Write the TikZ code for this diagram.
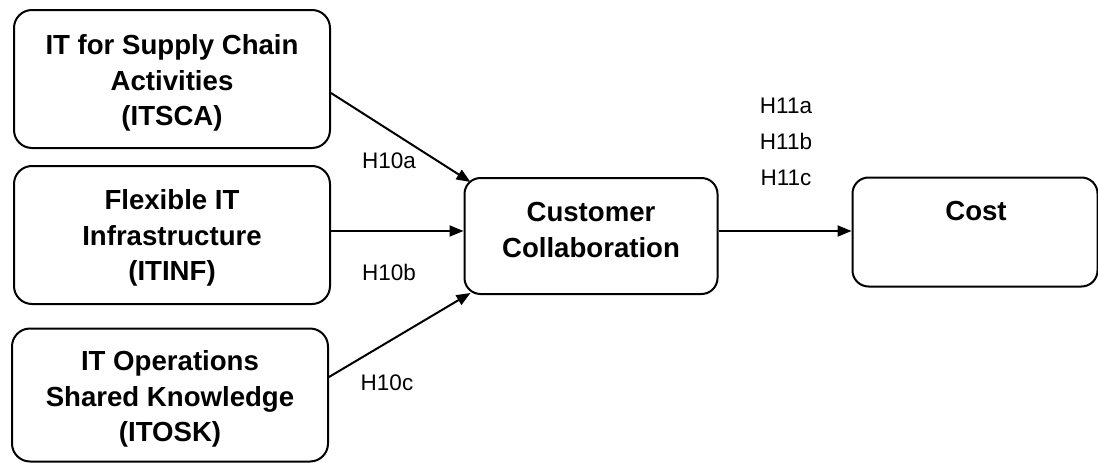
\documentclass[tikz,border=0pt]{standalone}
\usepackage{fontspec}
\setmainfont{Liberation Sans}
\usetikzlibrary{arrows.meta}
\begin{document}
\begin{tikzpicture}[x=1pt,y=-1pt,
  box/.style={draw,line width=2pt,rounded corners=18pt,align=center,
    font=\bfseries\fontsize{27.6pt}{35.5pt}\selectfont,inner sep=0pt},
  lbl/.style={font=\fontsize{22.5pt}{36pt}\selectfont,align=center,inner sep=0pt},
  arr/.style={line width=2pt,-{Triangle[length=14pt,width=11pt]}}]
\useasboundingbox[fill=white] (0,0) rectangle (1098,463);
\node[box,minimum width=316pt,minimum height=138pt] (b1) at (172,79) {};
\node[box,minimum width=316pt,minimum height=138pt] (b2) at (172,235) {};
\node[box,minimum width=316pt,minimum height=133pt] (b3) at (170,395) {};
\node[box,minimum width=253pt,minimum height=116pt,rounded corners=16pt] (cc) at (591,236) {};
\node[box,minimum width=245pt,minimum height=109pt,rounded corners=16pt] (cost) at (975,232) {};
\node[box,draw=none] (t1) at (172,83) {IT for Supply Chain\\Activities\\(ITSCA)};
\node[box,draw=none] (t2) at (172,238) {Flexible IT\\Infrastructure\\(ITINF)};
\node[box,draw=none] (t3) at (170,399) {IT Operations\\Shared Knowledge\\(ITOSK)};
\node[box,draw=none] (tcc) at (591,230) {Customer\\Collaboration};
\node[box,draw=none] (tcost) at (976,211) {Cost};
\draw[arr] ([yshift=-14pt]b1.east) -- ([xshift=7pt,yshift=-5pt]cc.north west);
\draw[arr] ([yshift=4pt]b2.east) -- ([yshift=5pt]cc.west);
\draw[arr] ([yshift=18pt]b3.east) -- ([xshift=7pt,yshift=2pt]cc.south west);
\draw[arr] ([yshift=5pt]cc.east) -- ([yshift=1pt]cost.west);
\node[lbl] (h10a) at (389,161) {H10a};
\node[lbl] (h10b) at (389,272) {H10b};
\node[lbl] (h10c) at (387,383) {H10c};
\node[lbl] (h11) at (786,142) {H11a\\H11b\\H11c};
\end{tikzpicture}
\end{document}
